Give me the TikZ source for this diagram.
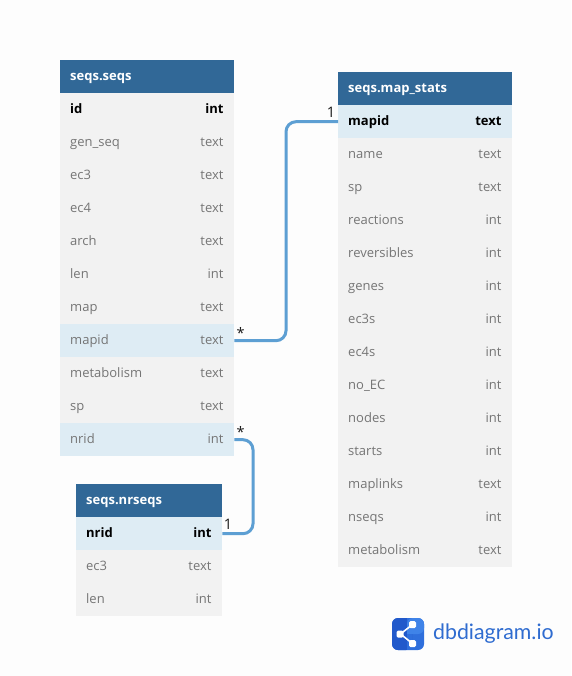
\documentclass[tikz,border=0pt]{standalone}
\usepackage{fontspec}
\setmainfont{Open Sans}
\newfontfamily\logofont{Lato}
\definecolor{pagebg}{HTML}{FDFDFD}
\definecolor{headblue}{HTML}{316897}
\definecolor{rowgrey}{HTML}{F2F2F2}
\definecolor{rowhi}{HTML}{DEECF4}
\definecolor{txtgrey}{HTML}{757575}
\definecolor{linkblue}{HTML}{5D9FD3}
\definecolor{logoblue}{HTML}{2F6FDC}
\definecolor{logodark}{HTML}{2159CB}
\definecolor{logolight}{HTML}{3F83E8}
\definecolor{logotextblue}{HTML}{2F6CD0}
\tikzset{
  cell/.style={anchor=north west,inner xsep=10pt,inner ysep=0pt,minimum height=33pt,
     text width=#1,align=left,font=\fontsize{13}{15}\selectfont,text height=10pt,text depth=3pt},
  headcell/.style={cell=#1,fill=headblue,text=white},
  plainrow/.style={cell=#1,fill=rowgrey,text=txtgrey},
  hirow/.style={cell=#1,fill=rowhi,text=txtgrey},
  pkrow/.style={cell=#1,fill=rowgrey,text=black},
  pkhirow/.style={cell=#1,fill=rowhi,text=black},
  link/.style={draw=linkblue,line width=3pt,rounded corners=10pt},
  card/.style={inner sep=0pt,text=black!90,font=\fontsize{14.5}{16}\selectfont},
}
\newcommand{\rowtxt}[2]{#1\hfill #2\kern0.7pt}
\newcommand{\pktxt}[2]{\textbf{#1}\hfill\textbf{#2}\kern0.7pt}
\begin{document}
\begin{tikzpicture}[x=1pt,y=-1pt]
\useasboundingbox[fill=pagebg] (0,0) rectangle (571,676);
% seqs.seqs
\node[headcell=154pt] (sH) at (60,60) {\textbf{seqs.seqs}};
\node[pkrow=154pt] (s1) at (60,93) {\pktxt{id}{int}};
\node[plainrow=154pt] (s2) at (60,126) {\rowtxt{gen\_seq}{text}};
\node[plainrow=154pt] (s3) at (60,159) {\rowtxt{ec3}{text}};
\node[plainrow=154pt] (s4) at (60,192) {\rowtxt{ec4}{text}};
\node[plainrow=154pt] (s5) at (60,225) {\rowtxt{arch}{text}};
\node[plainrow=154pt] (s6) at (60,258) {\rowtxt{len}{int}};
\node[plainrow=154pt] (s7) at (60,291) {\rowtxt{map}{text}};
\node[hirow=154pt] (s8) at (60,324) {\rowtxt{mapid}{text}};
\node[plainrow=154pt] (s9) at (60,357) {\rowtxt{metabolism}{text}};
\node[plainrow=154pt] (s10) at (60,390) {\rowtxt{sp}{text}};
\node[hirow=154pt] (s11) at (60,423) {\rowtxt{nrid}{int}};
% seqs.map_stats
\node[headcell=154pt] (mH) at (338,72) {\textbf{seqs.map\_stats}};
\node[pkhirow=154pt] (m1) at (338,105) {\pktxt{mapid}{text}};
\node[plainrow=154pt] (m2) at (338,138) {\rowtxt{name}{text}};
\node[plainrow=154pt] (m3) at (338,171) {\rowtxt{sp}{text}};
\node[plainrow=154pt] (m4) at (338,204) {\rowtxt{reactions}{int}};
\node[plainrow=154pt] (m5) at (338,237) {\rowtxt{reversibles}{int}};
\node[plainrow=154pt] (m6) at (338,270) {\rowtxt{genes}{int}};
\node[plainrow=154pt] (m7) at (338,303) {\rowtxt{ec3s}{int}};
\node[plainrow=154pt] (m8) at (338,336) {\rowtxt{ec4s}{int}};
\node[plainrow=154pt] (m9) at (338,369) {\rowtxt{no\_EC}{int}};
\node[plainrow=154pt] (m10) at (338,402) {\rowtxt{nodes}{int}};
\node[plainrow=154pt] (m11) at (338,435) {\rowtxt{starts}{int}};
\node[plainrow=154pt] (m12) at (338,468) {\rowtxt{maplinks}{text}};
\node[plainrow=154pt] (m13) at (338,501) {\rowtxt{nseqs}{int}};
\node[plainrow=154pt] (m14) at (338,534) {\rowtxt{metabolism}{text}};
% seqs.nrseqs
\node[headcell=126pt] (nH) at (76,484) {\textbf{seqs.nrseqs}};
\node[pkhirow=126pt] (n1) at (76,517) {\pktxt{nrid}{int}};
\node[plainrow=126pt] (n2) at (76,550) {\rowtxt{ec3}{text}};
\node[plainrow=126pt] (n3) at (76,583) {\rowtxt{len}{int}};
% connectors
\coordinate (k1) at (286,0);
\coordinate (k2) at (253,0);
\draw[link] (s8.east) -- (s8.east -| k1) -- (m1.west -| k1) -- (m1.west);
\draw[link] (s11.east) -- (s11.east -| k2) -- (n1.east -| k2) -- (n1.east);
% cardinalities
\node[card] (c1) at (240.5,332.5) {*};
\node[card] (c2) at (331,112.5) {1};
\node[card] (c3) at (240.5,431.5) {*};
\node[card] (c4) at (228,524.5) {1};
% logo
\node[fill=logoblue,rounded corners=6pt,minimum size=32pt,inner sep=0pt] (logo) at (408,634) {};
\fill[logodark,rounded corners=6pt] (392,618) rectangle (412,650);
\fill[logoblue] (407,618) rectangle (412,650);
\fill[logolight,rounded corners=6pt] (407,618) rectangle (424,634);
\fill[logolight] (407,626) rectangle (414,634);
\draw[white,line width=1.6pt] (400.5,634) -- (412.5,624.5) (400.5,634) -- (412.5,643.5);
\fill[white,rounded corners=1.5pt] (396.5,630.5) rectangle (403.5,637.5);
\fill[white,rounded corners=1.5pt] (409,621) rectangle (416,628);
\fill[white,rounded corners=1.5pt] (409,640) rectangle (416,647);
\node[anchor=west,inner sep=0pt,text=logotextblue,font=\logofont\fontsize{21.3}{24}\selectfont] (logotext) at (433,634) {dbdiagram.io};
\end{tikzpicture}
\end{document}
